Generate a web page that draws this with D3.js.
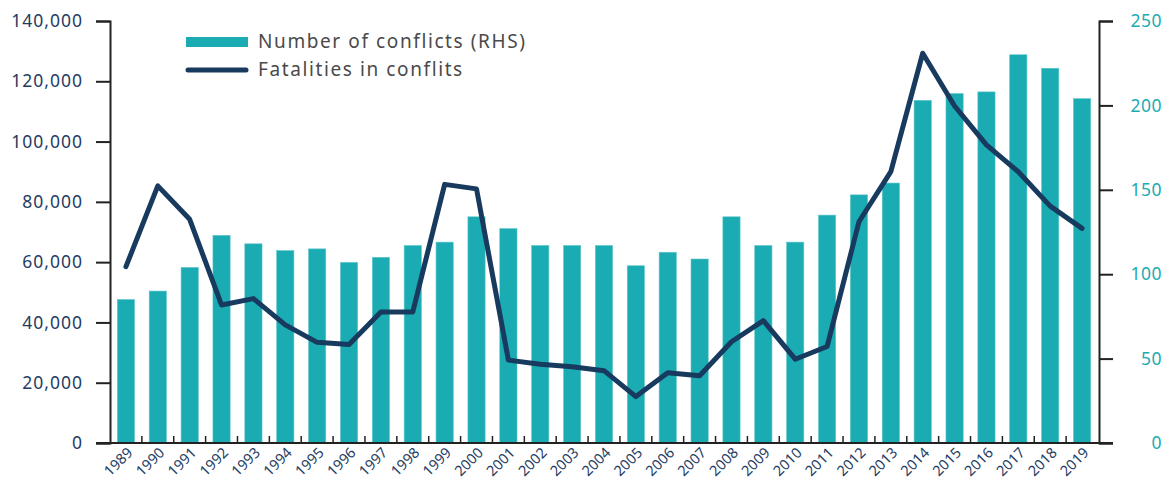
<!DOCTYPE html>
<html>
<head>
<meta charset="utf-8">
<script src="https://cdn.jsdelivr.net/npm/d3@7"></script>
<style>
  body { margin: 0; background: #fff; }
  svg text { font-family: "Noto Sans", sans-serif; }
</style>
</head>
<body>
<svg id="chart" width="1166" height="482"></svg>
<script>
// data
const years = d3.range(1989, 2020).map(String);
const conflicts = [85, 90, 104, 123, 118, 114, 115, 107, 110, 117, 119, 134,
  127, 117, 117, 117, 105, 113, 109, 134, 117, 119, 135, 147, 154, 203, 207,
  208, 230, 222, 204];
const fatalities = [58500, 85300, 74200, 45800, 47900, 39200, 33400, 32700,
  43500, 43500, 85800, 84300, 27500, 26100, 25300, 24000, 15400, 23300, 22300,
  33600, 40600, 27800, 32000, 73400, 90000, 129300, 111800, 98900, 90000,
  78600, 71200];
const leftTicks = [0, 20000, 40000, 60000, 80000, 100000, 120000, 140000];
const rightTicks = [0, 50, 100, 150, 200, 250];
const legendLabels = ['Number of conflicts (RHS)', 'Fatalities in conflits'];

const teal = '#1aabb3';
const navy = '#173a5e';
const axisColor = '#222';

const plot = {left: 110, right: 1098, top: 21, bottom: 443};
const svg = d3.select('#chart');

const x = d3.scaleBand()
  .domain(years)
  .range([plot.left, plot.right])
  .paddingInner(0.46)
  .paddingOuter(0.23);
const yL = d3.scaleLinear().domain([0, 140000]).range([plot.bottom, plot.top]);
const yR = d3.scaleLinear().domain([0, 250]).range([plot.bottom, plot.top]);
const step = x.step();

// bars (right hand scale)
svg.append('g')
  .selectAll('rect')
  .data(years)
  .join('rect')
  .attr('x', d => x(d))
  .attr('y', (d, i) => yR(conflicts[i]))
  .attr('width', x.bandwidth())
  .attr('height', (d, i) => plot.bottom - yR(conflicts[i]))
  .attr('fill', teal)
  .attr('stroke', '#5fc6cb')
  .attr('stroke-width', 0.6);

// fatalities line
const line = d3.line()
  .x((d, i) => x(years[i]) + x.bandwidth() / 2)
  .y(d => yL(d));
svg.append('path')
  .datum(fatalities)
  .attr('d', line)
  .attr('fill', 'none')
  .attr('stroke', navy)
  .attr('stroke-width', 5)
  .attr('stroke-linejoin', 'round')
  .attr('stroke-linecap', 'round');

// left axis
const gL = svg.append('g')
  .attr('transform', `translate(${plot.left},0)`)
  .call(d3.axisLeft(yL).tickValues(leftTicks).tickSize(14).tickPadding(13)
    .tickFormat(d3.format(',')));
gL.selectAll('text')
  .attr('fill', '#1f3d63')
  .style('font-size', '17.5px')
  .style('letter-spacing', '1px');

// right axis
const gR = svg.append('g')
  .attr('transform', `translate(${plot.right + 1},0)`)
  .call(d3.axisRight(yR).tickValues(rightTicks).tickSize(14));
gR.selectAll('text')
  .attr('fill', teal)
  .attr('text-anchor', 'end')
  .attr('x', 63)
  .style('font-size', '17.5px')
  .style('letter-spacing', '0.5px');

[gL, gR].forEach(g => {
  g.select('.domain').attr('stroke', axisColor).attr('stroke-width', 2);
  g.selectAll('.tick line').attr('stroke', axisColor).attr('stroke-width', 2);
});

// x baseline and inner ticks between the bands
svg.append('line')
  .attr('x1', plot.left - 14).attr('x2', plot.right + 15)
  .attr('y1', plot.bottom).attr('y2', plot.bottom)
  .attr('stroke', axisColor).attr('stroke-width', 2);
svg.append('g')
  .selectAll('line')
  .data(years.slice(1))
  .join('line')
  .attr('x1', d => x(d) - step * x.paddingInner() / 2)
  .attr('x2', d => x(d) - step * x.paddingInner() / 2)
  .attr('y1', plot.bottom)
  .attr('y2', plot.bottom - 7)
  .attr('stroke', axisColor)
  .attr('stroke-width', 1.5);

// year labels
svg.append('g')
  .selectAll('text')
  .data(years)
  .join('text')
  .attr('transform', d => `translate(${x(d) + x.bandwidth() / 2 + 4},${plot.bottom + 7}) rotate(-45)`)
  .attr('text-anchor', 'end')
  .attr('dy', '0.35em')
  .attr('fill', '#1f3d63')
  .style('font-size', '14.5px')
  .text(d => d);

// legend
const lg = svg.append('g').attr('transform', 'translate(186,0)');
lg.append('rect')
  .attr('x', 0).attr('y', 37).attr('width', 62).attr('height', 10)
  .attr('fill', teal);
lg.append('line')
  .attr('x1', 2).attr('x2', 60).attr('y1', 70).attr('y2', 70)
  .attr('stroke', navy).attr('stroke-width', 5).attr('stroke-linecap', 'round');
lg.selectAll('text')
  .data(legendLabels)
  .join('text')
  .attr('x', 72)
  .attr('y', (d, i) => 48 + i * 28)
  .attr('fill', '#4a4a4a')
  .style('font-size', '19px')
  .style('letter-spacing', '1.6px')
  .text(d => d);
</script>
</body>
</html>
